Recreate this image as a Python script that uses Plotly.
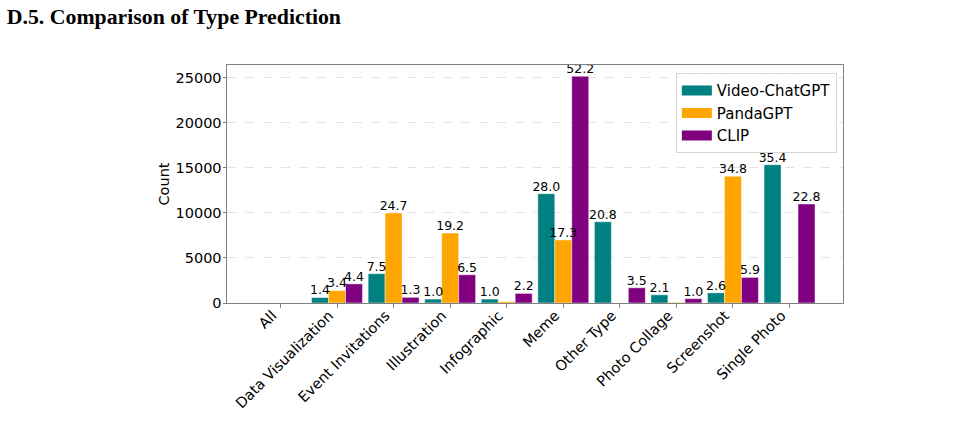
import plotly.graph_objects as go

categories = ["All", "Data Visualization", "Event Invitations", "Illustration", "Infographic",
              "Meme", "Other Type", "Photo Collage", "Screenshot", "Single Photo"]
series_names = ["Video-ChatGPT", "PandaGPT", "CLIP"]
video_chatgpt = [0, 606, 3250, 433, 433, 12120, 9000, 909, 1126, 15330]
pandagpt = [0, 1374, 9980, 7760, 150, 6990, 0, 70, 14060, 0]
clip = [0, 2120, 626, 3130, 1060, 25140, 1690, 480, 2840, 10980]
video_chatgpt_pct = [None, 1.4, 7.5, 1.0, 1.0, 28.0, 20.8, 2.1, 2.6, 35.4]
pandagpt_pct = [None, 3.4, 24.7, 19.2, None, 17.3, None, None, 34.8, None]
clip_pct = [None, 4.4, 1.3, 6.5, 2.2, 52.2, 3.5, 1.0, 5.9, 22.8]
y_ticks = [0, 5000, 10000, 15000, 20000, 25000]

colors = ["#008080", "#FFA500", "#800080"]
FONT = "DejaVu Sans"
BAR_W = 0.3
offsets = [-BAR_W, 0.0, BAR_W]

fig = go.Figure()
xs = list(range(len(categories)))
all_vals = [video_chatgpt, pandagpt, clip]
all_pcts = [video_chatgpt_pct, pandagpt_pct, clip_pct]

# bars
for name, vals, col in zip(series_names, all_vals, colors):
    fig.add_trace(go.Bar(
        x=xs, y=vals, name=name, showlegend=False, legendgroup=name,
        marker=dict(color=col, line=dict(color="rgba(255,255,255,0.45)", width=1)),
        hoverinfo="skip",
    ))

# legend swatches (wide rectangles like matplotlib patches)
for name, col in zip(series_names, colors):
    fig.add_trace(go.Scatter(
        x=[None], y=[None], mode="lines", name=name, legendgroup=name,
        line=dict(color=col, width=10), showlegend=True,
    ))

# value labels drawn above all bars
for vals, pcts, off in zip(all_vals, all_pcts, offsets):
    lx, ly, lt = [], [], []
    for i, (v, p) in enumerate(zip(vals, pcts)):
        if p is None:
            continue
        lx.append(i + off)
        ly.append(v)
        lt.append(f"{p:.1f}")
    fig.add_trace(go.Scatter(
        x=lx, y=ly, text=lt, mode="text", textposition="top center",
        textfont=dict(family=FONT, size=12.5, color="black"),
        showlegend=False, hoverinfo="skip", cliponaxis=False,
    ))

fig.update_layout(
    width=966, height=439,
    margin=dict(l=227, r=123, t=65, b=136),
    paper_bgcolor="white", plot_bgcolor="white",
    barmode="group", bargap=0.1, bargroupgap=0,
    font=dict(family=FONT, size=14.5, color="black"),
    title=dict(text="<b>D.5. Comparison of Type Prediction</b>", x=0.007, xanchor="left",
               xref="container", y=0.962, yanchor="middle", yref="container",
               font=dict(family="Liberation Serif", size=21.8, color="black")),
    legend=dict(x=0.99, xanchor="right", y=0.965, yanchor="top",
                bordercolor="#d6d6d6", borderwidth=1, bgcolor="rgba(255,255,255,0.8)",
                font=dict(family=FONT, size=15), itemwidth=30, tracegroupgap=0),
    showlegend=True,
)
fig.update_xaxes(
    range=[-0.945, 9.945], tickmode="array", tickvals=xs, ticktext=categories,
    tickangle=-45, ticks="outside", ticklen=3.5, tickcolor="#808080",
    ticklabelshift=-8, ticklabelstandoff=-6,
    showline=True, linecolor="#808080", linewidth=1, mirror=True,
    showgrid=False, zeroline=False, tickfont=dict(family=FONT, size=14.5),
)
fig.update_yaxes(
    range=[0, 26390], tickmode="array", tickvals=y_ticks,
    ticktext=[str(t) for t in y_ticks],
    ticks="outside", ticklen=3.5, tickcolor="#808080",
    ticklabelstandoff=-2,
    showline=True, linecolor="#808080", linewidth=1, mirror=True,
    showgrid=True, gridcolor="#e3e3e3", griddash="dash", gridwidth=1,
    zeroline=False, tickfont=dict(family=FONT, size=14.5),
    title=dict(text="Count", font=dict(family=FONT, size=14.5), standoff=2),
)

fig.write_html("out.html")
